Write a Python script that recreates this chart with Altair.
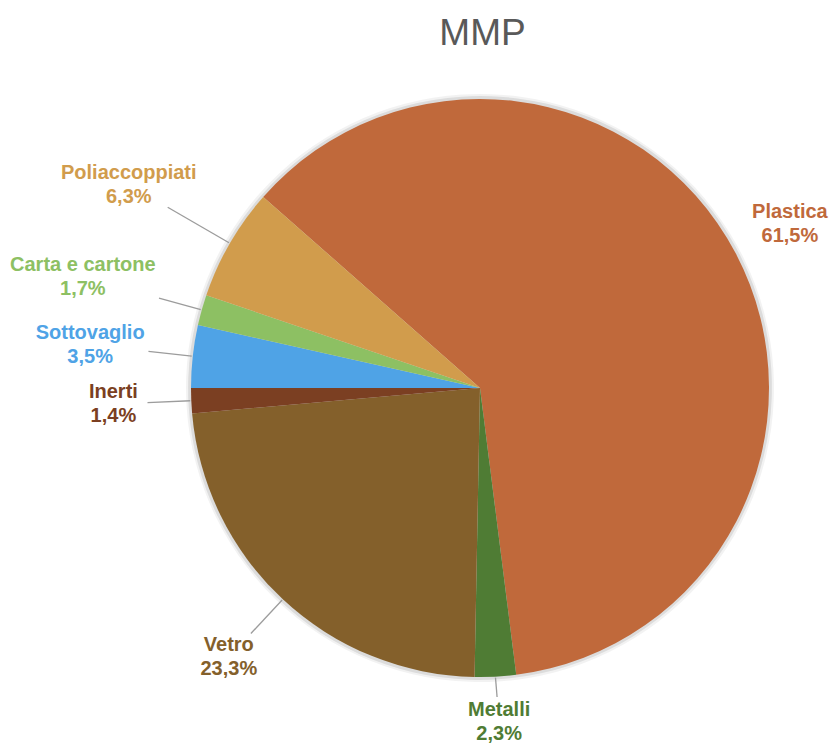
import math
import altair as alt
import pandas as pd

# ---- data ----
categories = ["Plastica", "Metalli", "Vetro", "Inerti", "Sottovaglio", "Carta e cartone", "Poliaccoppiati"]
shares = [61.5, 2.3, 23.3, 1.4, 3.5, 1.7, 6.3]
colors = ["#C0693B", "#4F7C34", "#84602B", "#7B3F22", "#4FA3E6", "#8DC063", "#D19C4C"]

df = pd.DataFrame({
    "categoria": categories,
    "quota": shares,
    "ordine": list(range(len(categories))),
})

# ---- layout ----
PAD_TOP = 58
W = 821
H = 737 - PAD_TOP
CX, CY = 472, 322          # pie centre inside the view
R = 289                    # pie radius
TOTAL = sum(shares)
# rotate so that the boundary after "Inerti" lies at 9 o'clock
START = 2 * math.pi * (0.75 - sum(shares[:4]) / TOTAL)
if START < 0:
    START += 2 * math.pi
TWO_PI = 2 * math.pi
HALF_H = 20
LINE_H = 24
LABEL_FONT = "Liberation Sans, Arial, Helvetica, sans-serif"

color_scale = alt.Scale(domain=categories, range=colors)
theta_scale = alt.Scale(range=[START, START + TWO_PI])

base = alt.Chart(df)

# soft shadow rings behind the pie
shadow_outer = base.transform_aggregate(tot="sum(quota)").mark_arc(
    radius=R + 5, color="#000000", opacity=0.05
).encode(
    theta=alt.Theta("tot:Q", scale=theta_scale),
    x=alt.value(CX), y=alt.value(CY),
)
shadow_inner = base.transform_aggregate(tot="sum(quota)").mark_arc(
    radius=R + 2.5, color="#000000", opacity=0.09
).encode(
    theta=alt.Theta("tot:Q", scale=theta_scale),
    x=alt.value(CX), y=alt.value(CY),
)

pie = base.mark_arc(radius=R).encode(
    theta=alt.Theta("quota:Q", stack=True, scale=theta_scale),
    color=alt.Color("categoria:N", scale=color_scale, legend=None),
    order=alt.Order("ordine:Q"),
    x=alt.value(CX), y=alt.value(CY),
)

geo = (
    base.transform_joinaggregate(tot="sum(quota)")
    .transform_window(cum="sum(quota)", sort=[alt.SortField("ordine")], frame=[None, 0])
    .transform_calculate(a=f"{START} + 2*PI*(datum.cum - datum.quota/2)/datum.tot")
    .transform_calculate(pct="replace(format(datum.quota, '.1f'), '.', ',') + '%'")
    .transform_calculate(txt="datum.categoria + '\\n' + datum.pct")
    .transform_calculate(hw="max(length(datum.categoria), length(datum.pct)) * 4.85")
    .transform_calculate(gap="datum.quota/datum.tot >= 0.5 ? 18 : 48")
    .transform_calculate(ext=f"datum.hw*abs(sin(datum.a)) + {HALF_H}*abs(cos(datum.a))")
    .transform_calculate(rl=f"{R} + datum.gap + datum.ext")
    .transform_calculate(lx=f"{CX} + datum.rl*sin(datum.a)")
    .transform_calculate(ly=f"min({CY} - datum.rl*cos(datum.a), {H - HALF_H - 3})")
    .transform_calculate(p0x=f"{CX} + {R + 1}*sin(datum.a)")
    .transform_calculate(p0y=f"{CY} - {R + 1}*cos(datum.a)")
    .transform_calculate(dl="sqrt(pow(datum.lx-datum.p0x,2) + pow(datum.ly-datum.p0y,2))")
    .transform_calculate(ux="(datum.lx-datum.p0x)/datum.dl")
    .transform_calculate(uy="(datum.ly-datum.p0y)/datum.dl")
    .transform_calculate(tb=f"min(datum.hw/max(abs(datum.ux),1e-6), {HALF_H}/max(abs(datum.uy),1e-6)) + 5")
    .transform_calculate(ex="datum.lx - datum.ux*datum.tb")
    .transform_calculate(ey="datum.ly - datum.uy*datum.tb")
)

leaders = geo.transform_filter("datum.quota/datum.tot < 0.5").mark_rule(
    color="#9c9c9c", strokeWidth=1.3
).encode(
    x=alt.X("p0x:Q", scale=None, axis=None),
    y=alt.Y("p0y:Q", scale=None, axis=None),
    x2="ex:Q",
    y2="ey:Q",
)

labels = geo.mark_text(
    font=LABEL_FONT, fontSize=20, fontWeight="bold", lineBreak="\n", lineHeight=LINE_H,
    align="center", baseline="middle", dy=-LINE_H / 2,
).encode(
    x=alt.X("lx:Q", scale=None, axis=None),
    y=alt.Y("ly:Q", scale=None, axis=None),
    text="txt:N",
    color=alt.Color("categoria:N", scale=color_scale, legend=None),
)

chart = alt.layer(shadow_outer, shadow_inner, pie, leaders, labels).properties(
    width=W,
    height=H,
    padding={"top": PAD_TOP, "left": 0, "right": 0, "bottom": 0},
    autosize=alt.AutoSizeParams(type="none"),
    title=alt.TitleParams(
        "MMP", fontSize=37, font="Liberation Sans, Arial, sans-serif",
        fontWeight="normal", color="#595959", anchor="middle", frame="group", dx=64, offset=13,
    ),
).configure_view(stroke=None)

chart.save("out.html", embed_options={"renderer": "svg", "actions": False})
